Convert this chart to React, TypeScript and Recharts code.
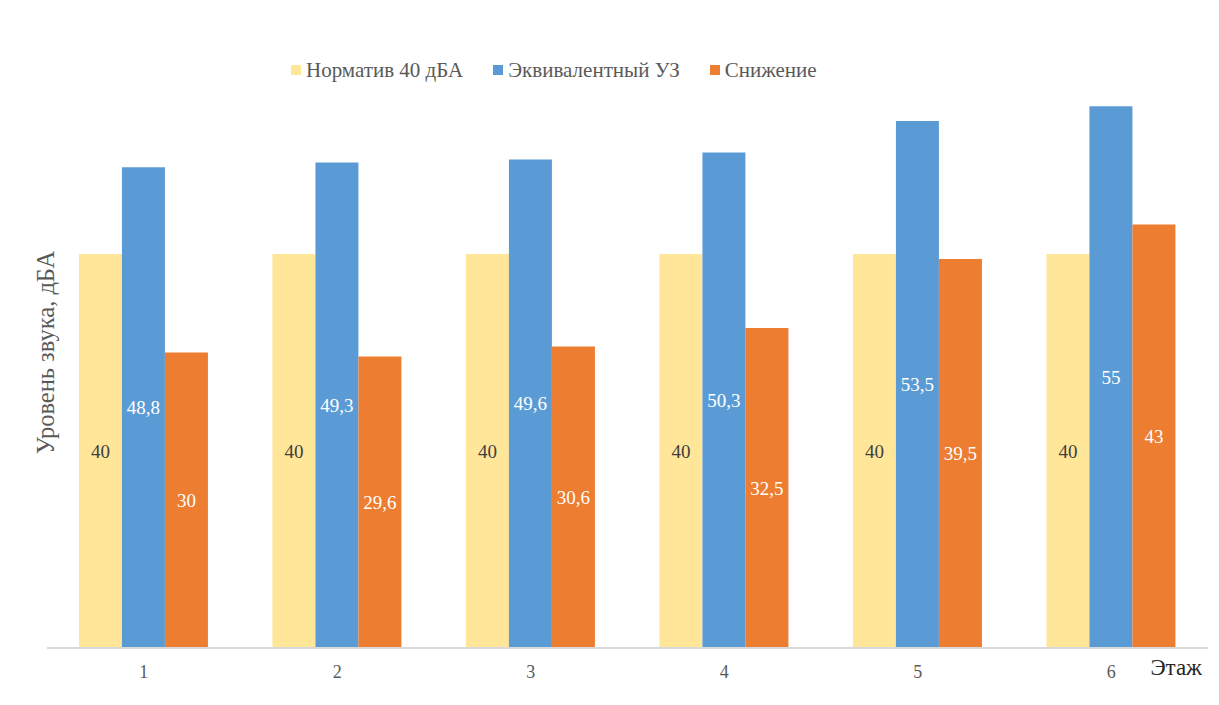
import { Bar, BarChart, LabelList, Legend, XAxis, YAxis } from "recharts";

const floors = ["1", "2", "3", "4", "5", "6"];
const norm = [40, 40, 40, 40, 40, 40];
const equivalent = [48.8, 49.3, 49.6, 50.3, 53.5, 55];
const reduced = [30, 29.6, 30.6, 32.5, 39.5, 43];

const seriesNames = ["Норматив 40 дБА", "Эквивалентный УЗ", "Снижение"];
const seriesColors = ["#FFE699", "#5B9BD5", "#ED7D31"];

const data = floors.map((floor, i) => ({
  floor,
  norm: norm[i],
  equivalent: equivalent[i],
  reduced: reduced[i],
}));

const font = "'Liberation Serif', 'Times New Roman', serif";
const fmt = (v: any) => String(v).replace(".", ",");

// legend drawn by hand so the order and spacing match the original
const LegendBox = () => (
  <div style={{ display: "flex", alignItems: "center", height: 20, fontFamily: font, fontSize: 21, color: "#595959" }}>
    {seriesNames.map((name, i) => (
      <div key={name} style={{ display: "flex", alignItems: "center", marginRight: 30 }}>
        <span style={{ width: 10, height: 10, background: seriesColors[i], marginRight: 5, display: "inline-block" }} />
        <span style={{ whiteSpace: "nowrap" }}>{name}</span>
      </div>
    ))}
  </div>
);

const App = () => {
  return (
    <div style={{ position: "absolute", left: 0, top: 0, width: 1219, height: 705, background: "#fff" }}>
      <BarChart
        width={1219}
        height={705}
        data={data}
        margin={{ top: 37, right: 11, bottom: 0, left: 43 }}
        barCategoryGap="16.5%"
        barGap={0}
        style={{ fontFamily: font }}
      >
        <XAxis
          dataKey="floor"
          height={57}
          tickLine={false}
          tickSize={10}
          tickMargin={7}
          axisLine={{ stroke: "#d9d9d9", strokeWidth: 2 }}
          tick={{ fill: "#595959", fontSize: 18, fontFamily: font }}
          label={{
            value: "Этаж",
            position: "insideBottomRight",
            offset: 0,
            dx: -6,
            dy: -30,
            fill: "#262626",
            fontSize: 23,
            fontFamily: font,
          }}
        />
        <YAxis
          width={4}
          domain={[0, 60]}
          tick={false}
          tickLine={false}
          axisLine={false}
          label={{
            value: "Уровень звука, дБА",
            angle: -90,
            position: "center",
            fill: "#595959",
            fontSize: 24.5,
            fontFamily: font,
          }}
        />
        <Legend
          verticalAlign="top"
          align="left"
          content={<LegendBox />}
          wrapperStyle={{ top: 60, left: 291, width: "auto" }}
        />
        <Bar dataKey="norm" name={seriesNames[0]} fill={seriesColors[0]} isAnimationActive={false}>
          <LabelList dataKey="norm" position="center" fill="#404040" fontSize={19} fontFamily={font} formatter={fmt} />
        </Bar>
        <Bar dataKey="equivalent" name={seriesNames[1]} fill={seriesColors[1]} isAnimationActive={false}>
          <LabelList dataKey="equivalent" position="center" fill="#ffffff" fontSize={19} fontFamily={font} formatter={fmt} />
        </Bar>
        <Bar dataKey="reduced" name={seriesNames[2]} fill={seriesColors[2]} isAnimationActive={false}>
          <LabelList dataKey="reduced" position="center" fill="#ffffff" fontSize={19} fontFamily={font} formatter={fmt} />
        </Bar>
      </BarChart>
    </div>
  );
};

export default App;
